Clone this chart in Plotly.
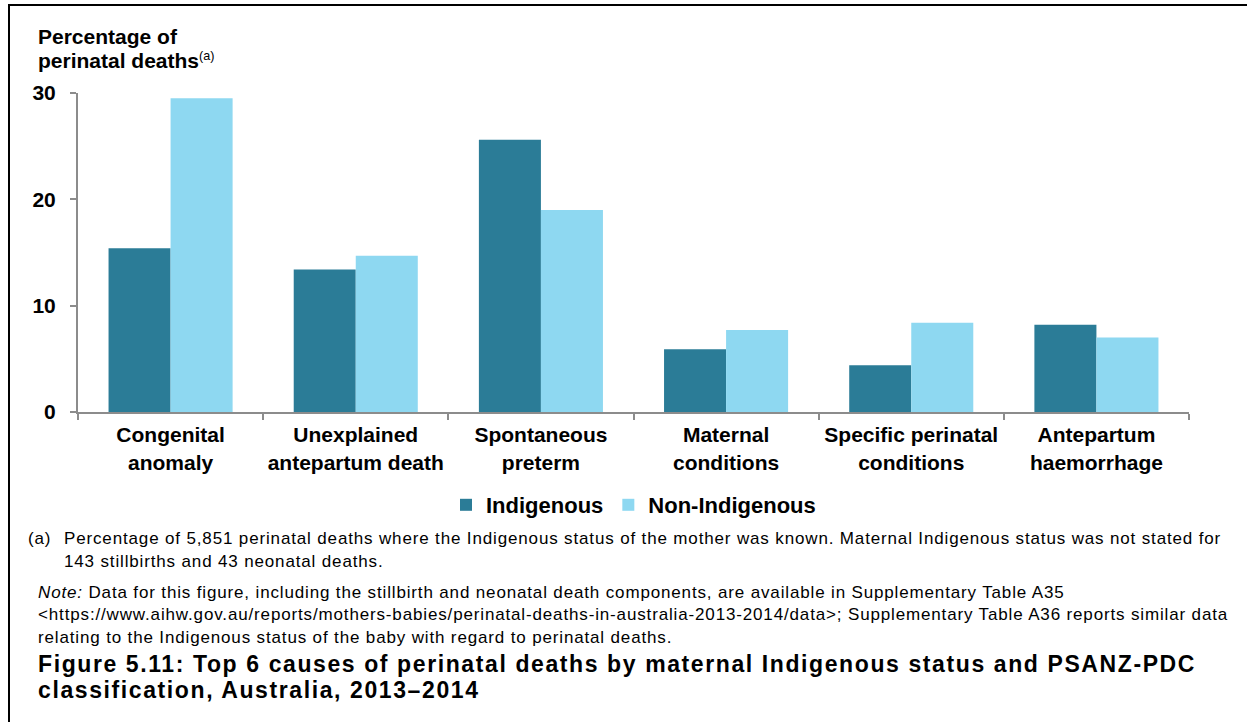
import plotly.graph_objects as go

# Top 6 PSANZ-PDC causes of perinatal death, 2013-2014 (% of perinatal deaths)
categories = [
    "Congenital<br>anomaly",
    "Unexplained<br>antepartum death",
    "Spontaneous<br>preterm",
    "Maternal<br>conditions",
    "Specific perinatal<br>conditions",
    "Antepartum<br>haemorrhage",
]
indigenous = [15.4, 13.4, 25.6, 5.9, 4.4, 8.2]
non_indigenous = [29.5, 14.7, 19.0, 7.7, 8.4, 7.0]
y_ticks = [0, 10, 20, 30]

W, H = 1247, 722
L, R, T, B = 78, 58, 93, 310
PW, PH = W - L - R, H - T - B

FONT = "Liberation Sans, Arial, sans-serif"
DARK = "#2B7C97"
LIGHT = "#8ED8F1"
AXIS = "#8C8C8C"


def px(x):
    return (x - L) / PW


def py(y):
    return (H - B - y) / PH


fig = go.Figure()
fig.add_trace(go.Bar(name="Indigenous", x=categories, y=indigenous,
                     marker=dict(color=DARK, line=dict(width=0))))
fig.add_trace(go.Bar(name="Non-Indigenous", x=categories, y=non_indigenous,
                     marker=dict(color=LIGHT, line=dict(width=0))))

annotations = []


def text(x, y, s, size, bold=False, spacing=0.0):
    if spacing:
        s = f"<span style='letter-spacing:{spacing}px'>{s}</span>"
    annotations.append(dict(
        x=px(x), y=py(y), xref="paper", yref="paper", text=s,
        showarrow=False, xanchor="left", yanchor="middle",
        font=dict(family=FONT, size=size, color="black",
                  weight="bold" if bold else "normal"),
        align="left",
    ))


# y-axis heading
text(36, 37, "Percentage of", 21, bold=True)
text(36, 60, "perinatal deaths<span style='font-size:18px;font-weight:normal'><sup>(a)</sup></span>",
     21, bold=True)

# footnotes
NOTE, NOTE_SP = 17, 0.85
text(26, 538, "(a)", NOTE, spacing=NOTE_SP)
text(62, 538, "Percentage of 5,851 perinatal deaths where the Indigenous status of the mother was known. "
              "Maternal Indigenous status was not stated for", NOTE, spacing=NOTE_SP)
text(62, 561, "143 stillbirths and 43 neonatal deaths.", NOTE, spacing=NOTE_SP)
text(36, 592, "<i>Note:</i> Data for this figure, including the stillbirth and neonatal death components, "
              "are available in Supplementary Table A35", NOTE, spacing=NOTE_SP)
text(36, 614, "&lt;https://www.aihw.gov.au/reports/mothers-babies/perinatal-deaths-in-australia-2013-2014/data&gt;; "
              "Supplementary Table A36 reports similar data", NOTE, spacing=NOTE_SP)
text(36, 637, "relating to the Indigenous status of the baby with regard to perinatal deaths.",
     NOTE, spacing=NOTE_SP)

# figure caption
CAP, CAP_SP = 23, 1.6
text(36, 664, "Figure 5.11: Top 6 causes of perinatal deaths by maternal Indigenous status and PSANZ-PDC",
     CAP, bold=True, spacing=CAP_SP)
text(36, 690, "classification, Australia, 2013\u20132014", CAP, bold=True, spacing=CAP_SP)

# frame around the figure
shapes = [
    dict(type="line", xref="paper", yref="paper", x0=px(9), x1=px(9), y0=py(5), y1=py(H + 5),
         line=dict(color="black", width=2)),
    dict(type="line", xref="paper", yref="paper", x0=px(8), x1=px(W + 5), y0=py(5), y1=py(5),
         line=dict(color="black", width=2)),
]

fig.update_layout(
    width=W, height=H,
    margin=dict(l=L, r=R, t=T, b=B, pad=0),
    paper_bgcolor="white", plot_bgcolor="white",
    barmode="group", bargap=0.33, bargroupgap=0,
    font=dict(family=FONT, color="black"),
    showlegend=True,
    legend=dict(orientation="h", x=px(446), y=py(505), xanchor="left", yanchor="middle",
                font=dict(family=FONT, size=22, weight="bold", color="black"),
                itemwidth=30, traceorder="normal", bgcolor="rgba(0,0,0,0)"),
    annotations=annotations,
    shapes=shapes,
)
fig.update_xaxes(
    type="category", showline=True, linecolor=AXIS, linewidth=2,
    ticks="outside", tickson="boundaries", ticklen=6, tickcolor=AXIS, tickwidth=2,
    showgrid=False, zeroline=False, ticklabelstandoff=3, tickangle=0,
    tickfont=dict(family=FONT, size=21, weight="bold", color="black"),
)
fig.update_yaxes(
    range=[0, 30], tickvals=y_ticks, showline=True, linecolor=AXIS, linewidth=2,
    ticks="outside", ticklen=6, tickcolor=AXIS, tickwidth=2,
    showgrid=False, zeroline=False, ticklabelstandoff=10,
    tickfont=dict(family=FONT, size=21, weight="bold", color="black"),
)

fig.write_html("out.html")
